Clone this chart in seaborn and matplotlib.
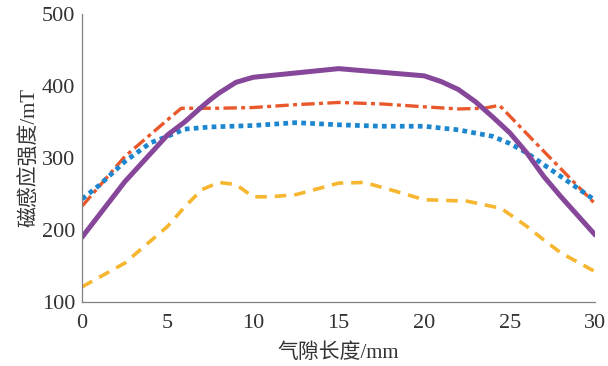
import numpy as np
import pandas as pd
import matplotlib
matplotlib.use("Agg")
import matplotlib.pyplot as plt
import seaborn as sns

# ── Data ─────────────────────────────────────────────────────────────────────
x_purple = [0, 2.5, 5, 6, 7, 7.5, 8, 9, 10, 12.5, 15, 17.5, 20, 21, 22, 23, 24, 25, 26, 27, 28, 30]
y_purple = [190, 267, 332, 350, 371, 381, 390, 405, 412, 418, 424, 419, 414, 406, 395, 378, 357, 335, 307, 274, 246, 193]

x_red = [0, 2.5, 5, 5.8, 8, 10, 12.5, 15, 17.5, 20, 22, 23.5, 24.4, 27, 30]
y_red = [233, 302, 353, 369, 369, 370, 374, 377, 375, 371, 368, 369, 373, 309, 236]

x_blue = [0, 1, 2.5, 4, 5, 6, 7.5, 10, 12.5, 15, 17.5, 20, 22, 24, 25, 26, 28, 30]
y_blue = [243, 262, 295, 321, 330, 340, 343, 345, 349, 346, 344, 344, 339, 330, 320, 307, 274, 241]

x_yellow = [0, 2.5, 5, 6, 7, 8, 9, 10, 11, 12.5, 15, 16.5, 18, 20, 22.5, 24.5, 26, 27, 28, 29, 30]
y_yellow = [121, 154, 205, 232, 256, 266, 263, 246, 246, 249, 265, 266, 256, 242, 240, 230, 205, 186, 168, 155, 142]

X_LABEL = "气隙长度/mm"
Y_LABEL = "磁感应强度/mT"

sns.set_theme(style="white")
plt.rcParams["font.family"] = ["Liberation Serif", "Noto Sans CJK SC"]

fig = plt.figure(figsize=(6.08, 3.66), dpi=100)
ax = fig.add_axes([0.135, 0.175, 0.844, 0.787])

series = [
    (x_red, y_red, "#E9582B", (0, (4, 1.3, 1.2, 1.3)), 2.4),
    (x_blue, y_blue, "#1C87CF", (0, (1, 0.9)), 3.4),
    (x_yellow, y_yellow, "#F6B630", (0, (3.2, 2.2)), 2.6),
    (x_purple, y_purple, "#86469A", "-", 3.6),
]
for xs, ys, color, ls, lw in series:
    df = pd.DataFrame({"x": xs, "y": ys})
    sns.lineplot(data=df, x="x", y="y", ax=ax, color=color, linewidth=lw,
                 linestyle=ls, sort=False, estimator=None)

ax.set_xlim(0, 30)
ax.set_ylim(100, 500)
ax.set_xticks([0, 5, 10, 15, 20, 25, 30])
ax.set_yticks([100, 200, 300, 400, 500])
ax.set_xlabel(X_LABEL, fontsize=15, color="#333333", labelpad=7)
ax.set_ylabel(Y_LABEL, fontsize=15, color="#333333", labelpad=1)

for side in ["top", "right"]:
    ax.spines[side].set_visible(False)
for side in ["left", "bottom"]:
    ax.spines[side].set_color("#808080")
    ax.spines[side].set_linewidth(0.9)
ax.tick_params(axis="both", direction="in", length=4, width=0.8, color="#808080",
               labelsize=16, labelcolor="#333333")
ax.tick_params(axis="x", pad=9)
ax.tick_params(axis="y", pad=5)

fig.savefig("out.png", dpi=100)
